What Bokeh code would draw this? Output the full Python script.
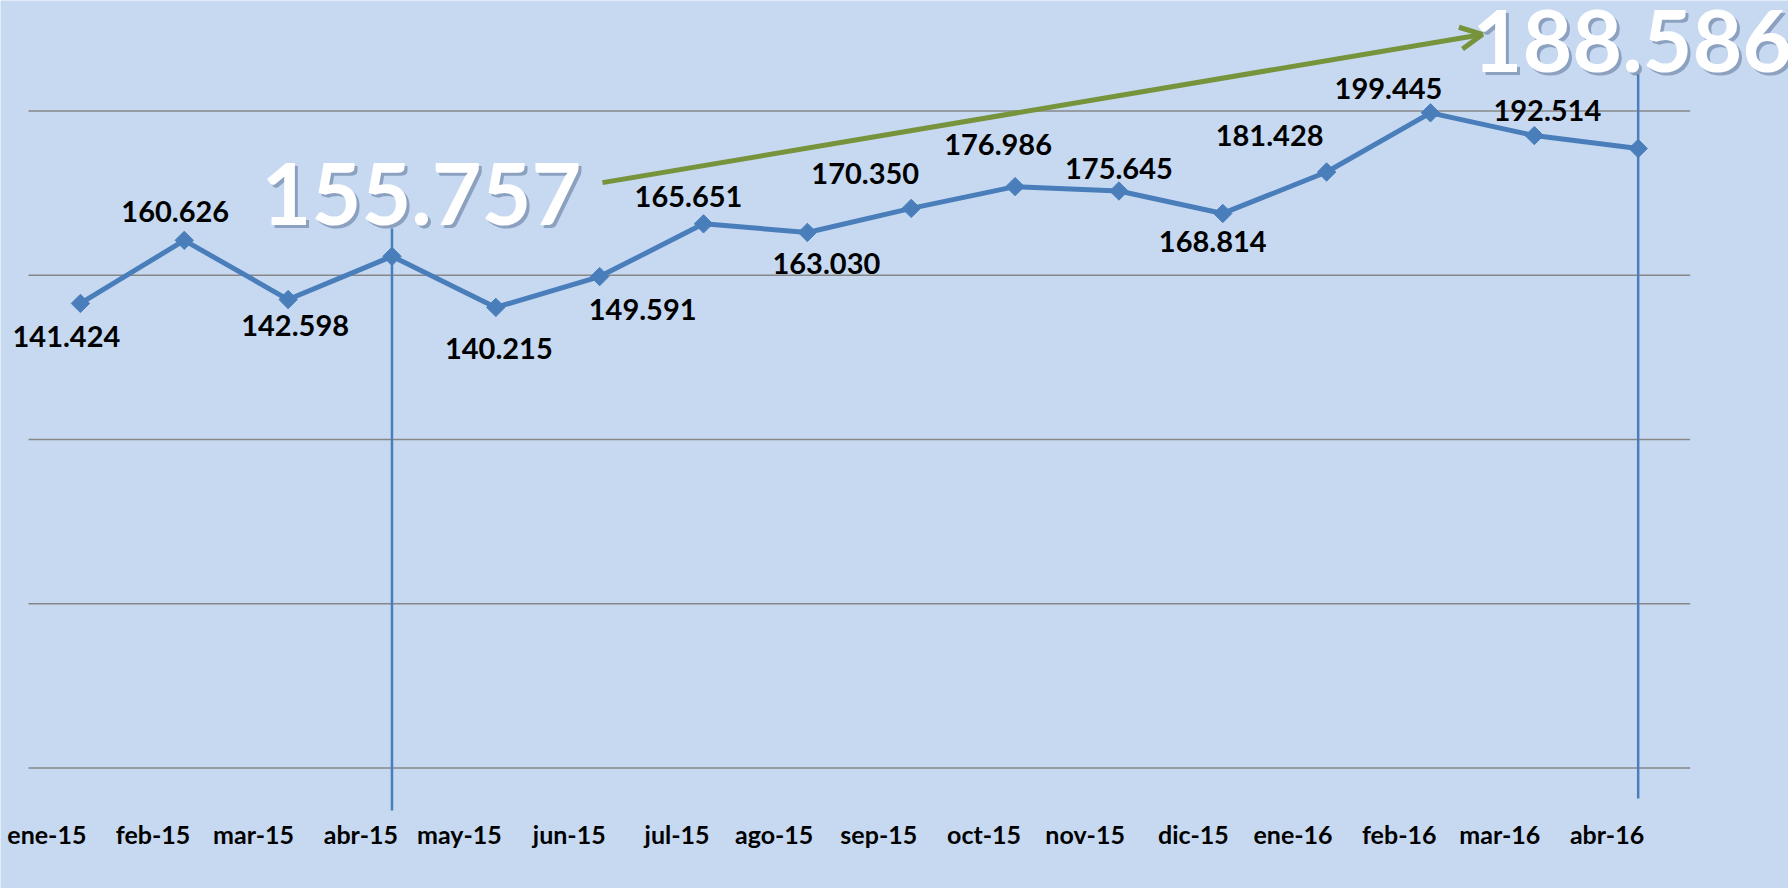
import math
from bokeh.plotting import figure
from bokeh.models import ColumnDataSource, Range1d, Arrow, OpenHead
from bokeh.core.properties import value
from bokeh.embed import file_html
from bokeh.resources import INLINE

# ---- data ----
months = ["ene-15", "feb-15", "mar-15", "abr-15", "may-15", "jun-15", "jul-15", "ago-15",
          "sep-15", "oct-15", "nov-15", "dic-15", "ene-16", "feb-16", "mar-16", "abr-16"]
visits = [141424, 160626, 142598, 155757, 140215, 149591, 165651, 163030,
          170350, 176986, 175645, 168814, 181428, 199445, 192514, 188586]
y_ticks = [0, 50000, 100000, 150000, 200000]
highlight = ["abr-15", "abr-16"]

# ---- styles / placement (screen pixels, y down positive) ----
label_offsets = {
    "ene-15": (-14, 33), "feb-15": (-9, -29), "mar-15": (7, 26), "may-15": (3, 41),
    "jun-15": (43, 33), "jul-15": (-15, -27), "ago-15": (19, 31), "sep-15": (-46, -35),
    "oct-15": (-17, -42), "nov-15": (0, -23), "dic-15": (-10, 28), "ene-16": (-57, -37),
    "feb-16": (-42, -24), "mar-16": (13, -25),
}
BG = "#C6D9F1"
BLUE = "#4A7EBB"
GREEN = "#77933C"
GRID = "#878787"
FONT = "Lato"
W, H = 1788, 888


def fmt(v):
    return f"{v:,}".replace(",", ".")


n = len(months)
xs = [i + 0.5 for i in range(n)]
src = ColumnDataSource(dict(x=xs, month=months, visits=visits))

lab_idx = [i for i, m in enumerate(months) if m not in highlight]
lab_src = ColumnDataSource(dict(
    x=[xs[i] for i in lab_idx], visits=[visits[i] for i in lab_idx],
    text=[fmt(visits[i]) for i in lab_idx],
    dx=[label_offsets[months[i]][0] for i in lab_idx],
    dy=[label_offsets[months[i]][1] for i in lab_idx]))

# plot area geometry: category width 103.85 px starting at 28 px; 0 at 767.5 px, 3.285 px per 1000
cw, left = 103.85, 28.0
zero_px, ppk = 767.5, 3.285
x_range = Range1d(-left / cw, (W - left) / cw)
y_range = Range1d(-(H - zero_px) / ppk * 1000, zero_px / ppk * 1000)

p = figure(x_range=x_range, y_range=y_range, width=W, height=H,
           output_backend="svg", toolbar_location=None,
           min_border=0)
p.background_fill_color = BG
p.border_fill_color = BG
p.outline_line_color = None
p.axis.visible = False
p.grid.visible = False

# horizontal value grid lines over the category span
p.segment(x0=[0] * len(y_ticks), x1=[n] * len(y_ticks), y0=y_ticks, y1=y_ticks,
          line_color=GRID, line_width=1.6)

# category labels below the zero line (ending at each category's position)
p.text(x=xs, y=[0] * n, text=months, x_offset=6, y_offset=66,
       text_align="right", text_baseline="middle", text_font=value(FONT),
       text_font_style="bold", text_font_size="25px", text_color="black")

# leader lines for highlighted months
tops = {"abr-15": 164200, "abr-16": 211100}
bottoms = {"abr-15": -12900, "abr-16": -9300}
hx = [xs[months.index(m)] for m in highlight]
p.segment(x0=hx, x1=hx, y0=[bottoms[m] for m in highlight], y1=[tops[m] for m in highlight],
          line_color=BLUE, line_width=2.5)

p.line(x="x", y="visits", source=src, line_color=BLUE, line_width=5)
p.scatter(x="x", y="visits", source=src, marker="square", angle=math.pi / 4, size=13,
          fill_color=BLUE, line_color=BLUE)

p.text(x="x", y="visits", text="text", source=lab_src, x_offset="dx", y_offset="dy",
       text_align="center", text_baseline="middle", text_font=value(FONT),
       text_font_style="bold", text_font_size="29px", text_color="black")

# growth arrow
p.add_layout(Arrow(x_start=5.527, y_start=178200, x_end=14.0, y_end=223300,
                   line_color=GREEN, line_width=5,
                   end=OpenHead(size=22, line_color=GREEN, line_width=5)))

# big highlighted values (centre of the digits)
big = {"abr-15": (3.784, 174600, "center"), "abr-16": (13.905, 221400, "left")}
bx = [big[m][0] for m in highlight]
by = [big[m][1] for m in highlight]
btxt = [fmt(visits[months.index(m)]) for m in highlight]
balign = [big[m][2] for m in highlight]
for i in range(len(highlight)):
    p.text(x=[bx[i]], y=[by[i]], text=[btxt[i]], x_offset=3, y_offset=3, text_align=balign[i],
           text_baseline="middle", text_font=value(FONT), text_font_style="bold",
           text_font_size="86px", text_color="#1F3864", text_alpha=0.35)
    p.text(x=[bx[i]], y=[by[i]], text=[btxt[i]], text_align=balign[i],
           text_baseline="middle", text_font=value(FONT), text_font_style="bold",
           text_font_size="86px", text_color="white")

open("out.html", "w").write(file_html(p, INLINE))
